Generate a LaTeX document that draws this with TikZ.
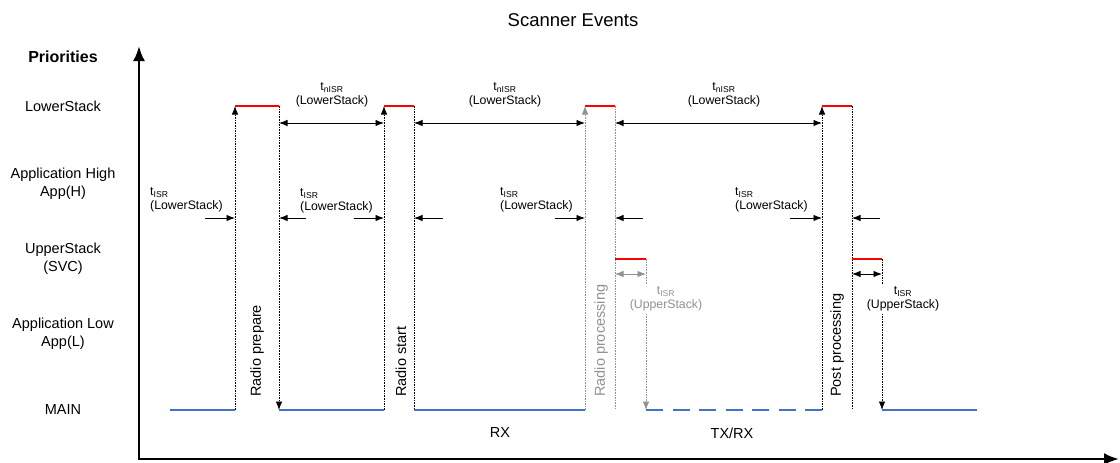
\documentclass[tikz,border=0pt]{standalone}
\usepackage{fontspec}
\setmainfont{Liberation Sans}
\usetikzlibrary{arrows.meta,calc}
\definecolor{evred}{RGB}{255,0,0}
\definecolor{evblue}{RGB}{68,114,196}
\definecolor{evgray}{RGB}{145,145,145}
\begin{document}
\begin{tikzpicture}[x=1pt,y=-1pt]
		\tikzstyle{every node}+=[inner sep=0pt]
		\tikzstyle{lvltxt}=[font=\fontsize{14.5}{18}\selectfont, align=center]
		\tikzstyle{lbltxt}=[font=\fontsize{12.3}{13.5}\selectfont]
		\tikzstyle{vline}=[line width=0.8pt, dash pattern=on 1.6pt off 1pt]
		\tikzstyle{arr}=[-{Latex[length=8.5pt,width=6.5pt]}]
		\tikzstyle{dbl}=[{Latex[length=8.5pt,width=6.5pt]}-{Latex[length=8.5pt,width=6.5pt]}, line width=0.9pt]
		\tikzstyle{redl}=[evred, line width=2.5pt]
		\tikzstyle{bluel}=[evblue, line width=2pt]
		\useasboundingbox (0,0) rectangle (1120,463);
		\draw [line width=2.5pt, {Latex[length=15pt,width=12pt]}-{Latex[length=15pt,width=12pt]}] (139,46) -- (139,459) -- (1119,459);
		\coordinate (nrow) at (0,123);
		\coordinate (irow) at (0,218);
		\coordinate (urow) at (0,274);
		\coordinate (m0) at (170,410);
		\coordinate (a1) at (235,410);
		\coordinate (a2) at (235,106);
		\coordinate (a3) at (279,106);
		\coordinate (a4) at (279,410);
		\coordinate (b1) at (384,410);
		\coordinate (b2) at (384,106);
		\coordinate (b3) at (414,106);
		\coordinate (b4) at (414,410);
		\coordinate (c1) at (585,410);
		\coordinate (c2) at (585,106);
		\coordinate (c3) at (615,106);
		\coordinate (c4) at (615,410);
		\coordinate (c5) at (615,259);
		\coordinate (c6) at (646,259);
		\coordinate (c7) at (646,410);
		\coordinate (d1) at (822,410);
		\coordinate (d2) at (822,106);
		\coordinate (d3) at (852,106);
		\coordinate (d4) at (852,410);
		\coordinate (d5) at (852,259);
		\coordinate (d6) at (882,259);
		\coordinate (d7) at (882,410);
		\coordinate (e0) at (977,410);
		\draw [bluel] (m0) -- (a1);
		\draw [vline, arr] (a1) -- (a2);
		\draw [vline, arr] (a3) -- (a4);
		\draw [redl] (a2) -- (a3);
		\draw [bluel] (a4) -- (b1);
		\draw [vline, arr] (b1) -- (b2);
		\draw [vline] (b3) -- (b4);
		\draw [redl] (b2) -- (b3);
		\draw [bluel] (b4) -- (c1);
		\draw [vline, evgray, arr] (c1) -- (c2);
		\draw [vline, evgray] (c3) -- (c4);
		\draw [redl] (c2) -- (c3);
		\draw [vline, evgray, arr] (c6) -- (c7);
		\draw [redl] (c5) -- (c6);
		\draw [dbl, evgray] (c5 |- urow) -- (c6 |- urow);
		\draw [bluel, dash pattern=on 17pt off 9.5pt] (c7) -- (d1);
		\draw [vline, arr] (d1) -- (d2);
		\draw [vline] (d3) -- (d4);
		\draw [redl] (d2) -- (d3);
		\draw [vline, arr] (d6) -- (d7);
		\draw [redl] (d5) -- (d6);
		\draw [dbl] (d5 |- urow) -- (d6 |- urow);
		\draw [bluel] (d7) -- (e0);
		\draw [dbl] (a3 |- nrow) -- (b2 |- nrow);
		\draw [dbl] (b3 |- nrow) -- (c2 |- nrow);
		\draw [dbl] (c3 |- nrow) -- (d2 |- nrow);
		\draw [arr, line width=0.9pt] ($(a1 |- irow)+(-30,0)$) -- (a1 |- irow);
		\draw [arr, line width=0.9pt] ($(a4 |- irow)+(27,0)$) -- (a4 |- irow);
		\draw [arr, line width=0.9pt] ($(b1 |- irow)+(-30,0)$) -- (b1 |- irow);
		\draw [arr, line width=0.9pt] ($(b4 |- irow)+(29,0)$) -- (b4 |- irow);
		\draw [arr, line width=0.9pt] ($(c1 |- irow)+(-30,0)$) -- (c1 |- irow);
		\draw [arr, line width=0.9pt] ($(c4 |- irow)+(28,0)$) -- (c4 |- irow);
		\draw [arr, line width=0.9pt] ($(d1 |- irow)+(-32,0)$) -- (d1 |- irow);
		\draw [arr, line width=0.9pt] ($(d4 |- irow)+(28,0)$) -- (d4 |- irow);
		\node [font=\fontsize{18.5}{22}\selectfont] (title) at (573,20) {Scanner Events};
		\node [lvltxt, font=\fontsize{16}{19}\selectfont\bfseries] (prio) at (63,57) {Priorities};
		\node [lvltxt] (lls) at (63,106) {LowerStack};
		\node [lvltxt] (lah) at (63,184) {Application High\\App(H)};
		\node [lvltxt] (lus) at (63,259) {UpperStack\\(SVC)};
		\node [lvltxt] (lal) at (63,334) {Application Low\\App(L)};
		\node [lvltxt] (lmain) at (63,410) {MAIN};
		\node [lvltxt, rotate=90, anchor=west] (rprep) at (257,397) {Radio prepare};
		\node [lvltxt, rotate=90, anchor=west] (rstart) at (401,397) {Radio start};
		\node [lvltxt, rotate=90, anchor=west, text=evgray] (rproc) at (601,397) {Radio processing};
		\node [lvltxt, rotate=90, anchor=west] (pproc) at (837,397) {Post processing};
		\node [lvltxt] (rx) at (500,433) {RX};
		\node [lvltxt] (txrx) at (732,433) {TX/RX};
		\node [lbltxt, align=center] (tn1) at (332,95) {t\textsubscript{nISR}\\(LowerStack)};
		\node [lbltxt, align=center] (tn2) at (505,95) {t\textsubscript{nISR}\\(LowerStack)};
		\node [lbltxt, align=center] (tn3) at (724,95) {t\textsubscript{nISR}\\(LowerStack)};
		\node [lbltxt, align=left, anchor=west] (ti1) at (150,200) {t\textsubscript{ISR}\\(LowerStack)};
		\node [lbltxt, align=left, anchor=west] (ti2) at (300,201) {t\textsubscript{ISR}\\(LowerStack)};
		\node [lbltxt, align=left, anchor=west] (ti3) at (500,200) {t\textsubscript{ISR}\\(LowerStack)};
		\node [lbltxt, align=left, anchor=west] (ti4) at (735,200) {t\textsubscript{ISR}\\(LowerStack)};
		\node [lbltxt, align=center, fill=white, inner sep=2pt, text=evgray] (tu1) at (666,299) {t\textsubscript{ISR}\\(UpperStack)};
		\node [lbltxt, align=center, fill=white, inner sep=2pt] (tu2) at (903,299) {t\textsubscript{ISR}\\(UpperStack)};
	\end{tikzpicture}
\end{document}
